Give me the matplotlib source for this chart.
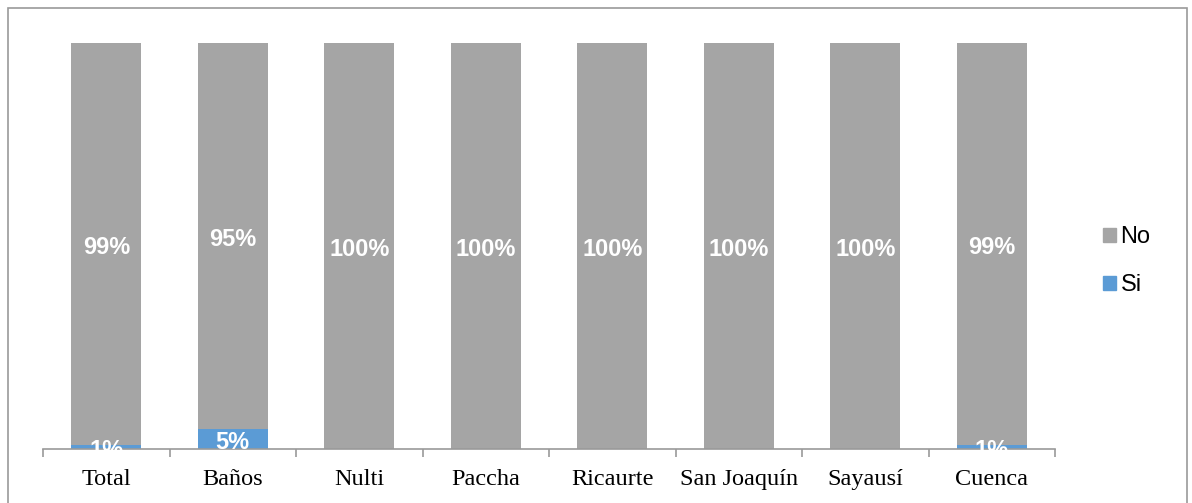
import numpy as np
import matplotlib.pyplot as plt
from matplotlib.patches import Rectangle, Patch

parroquias = ['Total', 'Baños', 'Nulti', 'Paccha', 'Ricaurte', 'San Joaquín', 'Sayausí', 'Cuenca']
si = [1, 5, 0, 0, 0, 0, 0, 1]
no = [99, 95, 100, 100, 100, 100, 100, 99]

gris = '#A5A5A5'
azul = '#5B9BD5'
borde = '#9A9A9A'

W, H = 1192, 503
fig = plt.figure(figsize=(W / 100, H / 100), dpi=100)

# marco exterior
fig.patches.append(Rectangle((8 / W, -0.05), (1187 - 8) / W, 1.05 - 8 / H,
                             transform=fig.transFigure, fill=False,
                             edgecolor=borde, linewidth=1.2))

ax = fig.add_axes([43 / W, 54 / H, (1055 - 43) / W, (449 - 43) / H])

x = np.arange(len(parroquias))
ancho = 0.553
ax.bar(x, si, ancho, color=azul, label='Si')
ax.bar(x, no, ancho, bottom=si, color=gris, label='No')

lbl = dict(ha='center', va='center', color='white', fontsize=17,
           fontweight='bold', family='Liberation Sans',
           textcoords='offset points', xytext=(0, -2.5))
for i in range(len(parroquias)):
    if si[i] > 0:
        t = ax.annotate(f'{si[i]}%', (x[i], si[i] / 2), **lbl)
        t.set_clip_on(True)
    if no[i] > 0:
        t = ax.annotate(f'{no[i]}%', (x[i], si[i] + no[i] / 2), **lbl)
        t.set_clip_on(True)

ax.set_xlim(-0.5, len(parroquias) - 0.5)
ax.set_ylim(0, 100)
ax.set_yticks([])
for s in ['top', 'right', 'left']:
    ax.spines[s].set_visible(False)
ax.spines['bottom'].set_color(borde)
ax.spines['bottom'].set_linewidth(1.2)

ax.set_xticks(np.arange(len(parroquias) + 1) - 0.5)
ax.set_xticklabels([])
ax.tick_params(axis='x', which='major', length=5.5, width=1.2, color=borde)
ax.set_xticks(x, minor=True)
ax.set_xticklabels(parroquias, minor=True, family='Liberation Serif', fontsize=17.5)
ax.tick_params(axis='x', which='minor', length=0, pad=14.5)

handles = [Patch(color=gris, label='No'), Patch(color=azul, label='Si')]
fig.legend(handles=handles, loc='center left', bbox_to_anchor=(1091 / W, 1 - 261 / H),
           frameon=False, prop={'family': 'Liberation Sans', 'size': 17},
           handlelength=0.55, handleheight=0.55, handletextpad=0.2,
           labelspacing=1.1, borderpad=0)

fig.savefig('out.png', dpi=100)
